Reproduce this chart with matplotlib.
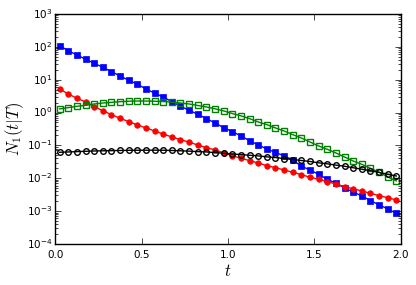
import numpy as np
import matplotlib
matplotlib.use("Agg")
import matplotlib.pyplot as plt

plt.style.use("classic")

# bin centres
t = np.arange(40) * 0.05 + 0.025

blue = [108, 76, 56.5, 41.8, 31.6, 23.9, 17.5, 13.0, 9.6, 7.3,
        5.2, 3.9, 2.95, 2.14, 1.55, 1.17, 0.887, 0.652, 0.482, 0.347,
        0.262, 0.194, 0.139, 0.103, 0.078, 0.061, 0.048, 0.036, 0.0234, 0.0178,
        0.0132, 0.0093, 0.0071, 0.0051, 0.0038, 0.0029, 0.0021, 0.00155, 0.00117, 0.00085]

red = [5.22, 3.67, 2.72, 2.10, 1.51, 1.14, 0.861, 0.670, 0.527, 0.419,
       0.340, 0.275, 0.221, 0.180, 0.150, 0.125, 0.103, 0.0853, 0.0726, 0.0589,
       0.0488, 0.0406, 0.0344, 0.0292, 0.0242, 0.0209, 0.0179, 0.0152, 0.0129, 0.0107,
       0.0093, 0.0079, 0.0067, 0.0055, 0.0048, 0.0041, 0.0035, 0.00295, 0.00256, 0.00218]

green = [1.29, 1.41, 1.55, 1.66, 1.82, 1.95, 2.04, 2.14, 2.21, 2.24,
         2.24, 2.21, 2.16, 2.07, 1.95, 1.82, 1.64, 1.48, 1.30, 1.12,
         0.933, 0.794, 0.652, 0.516, 0.428, 0.340, 0.275, 0.212, 0.168, 0.127,
         0.0962, 0.0762, 0.0589, 0.0445, 0.0336, 0.0266, 0.0201, 0.0152, 0.0110, 0.0083]

black = [0.0617, 0.0631, 0.0646, 0.0661, 0.0676, 0.0684, 0.0692, 0.0700, 0.0708, 0.0711,
         0.0714, 0.0714, 0.0711, 0.0700, 0.0684, 0.0668, 0.0646, 0.0631, 0.0603, 0.0575,
         0.0550, 0.0525, 0.0501, 0.0479, 0.0447, 0.0427, 0.0398, 0.0372, 0.0347, 0.0324,
         0.0295, 0.0275, 0.0251, 0.0232, 0.0209, 0.0188, 0.0170, 0.0151, 0.0133, 0.0117]

fig = plt.figure(figsize=(4.16, 2.85), dpi=100, facecolor="white")
ax = fig.add_axes([0.133, 0.144, 0.830, 0.807])

ms = 4
ax.semilogy(t, blue, "s-", color="b", mec="b", ms=ms, lw=1)
ax.semilogy(t, red, "o-", color="r", mec="r", ms=ms, lw=1)
ax.semilogy(t, green, "s-", color="g", mec="g", mfc="none", ms=ms, lw=1, mew=1)
ax.semilogy(t, black, "o-", color="k", mec="k", mfc="none", ms=ms, lw=1, mew=1)

ax.set_xlim(0, 2)
ax.set_ylim(1e-4, 1e3)
ax.set_xticks([0.0, 0.5, 1.0, 1.5, 2.0])
ax.tick_params(labelsize=7.5)
ax.tick_params(axis="y", pad=2)
ax.tick_params(axis="x", pad=4)
ax.set_xlabel("$t$", fontsize=12, labelpad=2)
ax.set_ylabel("$N_1(t|T)$", fontsize=12)
ax.yaxis.set_label_coords(-0.085, 0.5)

fig.savefig("out.png", dpi=100, facecolor="white")
